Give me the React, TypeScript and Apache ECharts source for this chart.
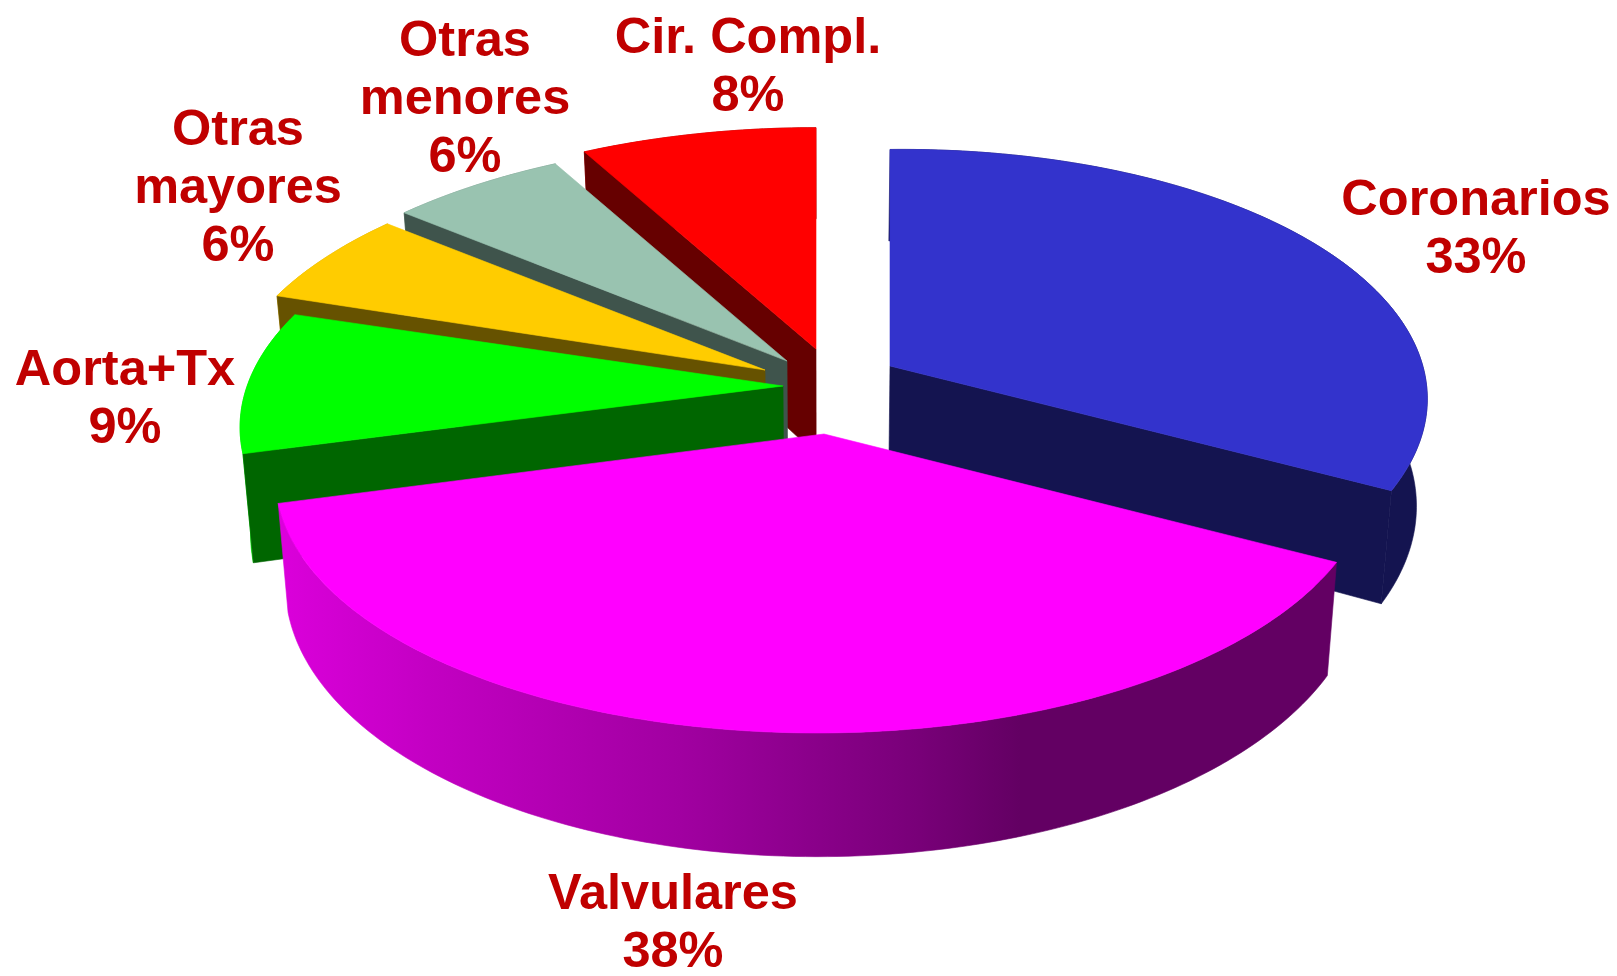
import React, { useEffect, useRef } from "react";
import * as echarts from "echarts";

// ---- data (clockwise from 12 o'clock) ----
const categories = ["Coronarios", "Valvulares", "Aorta+Tx", "Otras\nmayores", "Otras\nmenores", "Cir. Compl."];
const shares = [33, 38, 9, 6, 6, 8];

// ---- styles ----
const topColors = ["#3333CC", "#FF00FF", "#00FF00", "#FFCC00", "#99C3B0", "#FF0000"];
const faceColors = ["#141450", "#660066", "#006600", "#665200", "#3F544C", "#660000"];
const labelColor = "#C00000";

// ---- layout: 3D projection of the pie ----
const W = 1617;
const H = 976;
const centerX = 825;
const centerY = 382;
const radiusX = 545;
const radiusY = 255;
const perspective = 0.152;
const wallHeight = 105;
const bottomShrink = 0.982;
// painter's order, back to front
const depthRank = [4, 5, 3, 2, 1, 0];
// exploded offset of each slice's apex from the pie centre (px)
const explodeX = [65, -1, -42, -60, -38, -9];
const explodeY = [-16, 52, 4, -12, -21, -33];
const sliceScale = [0.975, 0.995, 0.985, 0.985, 1, 1];
const sliceSkew = [-5, -4, -3, 0, 0, 0];
// label block centres
const labelX = [1476, 673, 125, 238, 465, 748];
const labelY = [226, 920, 396, 185, 96, 64];
const lineStep = 58;

const total = shares.reduce((a, b) => a + b, 0);
const starts: number[] = [];
shares.reduce((acc, s, i) => {
  starts[i] = acc;
  return acc + s;
}, 0);

function project(i: number, angleDeg: number, r: number) {
  const a = (angleDeg * Math.PI) / 180;
  const u = Math.sin(a) * r * sliceScale[i];
  const v = -Math.cos(a) * r * sliceScale[i];
  const w = 1 - perspective * v;
  return {
    x: centerX + explodeX[i] + (u * radiusX) / w,
    y: centerY + explodeY[i] + (v * radiusY) / w + sliceSkew[i] * u,
    h: wallHeight / w,
  };
}
const topPt = (p: { x: number; y: number }) => [p.x, p.y];
const botPt = (p: { x: number; y: number; h: number }) => [
  centerX + (p.x - centerX) * bottomShrink,
  p.y + p.h,
];

function scale(hex: string, f: number) {
  const n = parseInt(hex.slice(1), 16);
  const c = (s: number) => Math.round(((n >> s) & 255) * f);
  return `rgb(${c(16)},${c(8)},${c(0)})`;
}
function wallGradient(hex: string) {
  const x0 = 230;
  const x1 = 1430;
  const stops: [number, number][] = [
    [230, 0.92],
    [290, 0.85],
    [435, 0.76],
    [680, 0.63],
    [920, 0.47],
    [1020, 0.39],
    [1430, 0.39],
  ];
  return new echarts.graphic.LinearGradient(
    x0,
    0,
    x1,
    0,
    stops.map(([x, f]) => ({ offset: (x - x0) / (x1 - x0), color: scale(hex, f) })),
    true
  );
}

function renderItem(params: any, api: any) {
  const i = params.dataIndex;
  const share = api.value(0);
  const a0 = (starts[i] / total) * 360;
  const a1 = a0 + (share / total) * 360;
  const steps = Math.ceil(a1 - a0);
  const arc = [];
  for (let s = 0; s <= steps; s++) arc.push(project(i, a0 + ((a1 - a0) * s) / steps, 1));
  const apex = project(i, 0, 0);
  const rank = depthRank[i] * 10;
  const face = faceColors[i];
  const first = arc[0];
  const last = arc[arc.length - 1];
  const poly = (points: number[][], fill: any, z2: number) => ({
    type: "polygon",
    z2,
    shape: { points },
    style: { fill, stroke: fill, lineWidth: 0.6 },
    silent: true,
  });
  const rad = (d: number) => (d * Math.PI) / 180;
  const children: any[] = [
    poly([...arc.map(topPt), ...arc.slice().reverse().map(botPt)], wallGradient(topColors[i]), rank),
  ];
  // a cut face is drawn only when it turns towards the viewer
  if (Math.sin(rad(a0)) < -1e-6) {
    children.push(poly([topPt(apex), topPt(first), botPt(first), botPt(apex)], face, rank + 1));
  }
  if (Math.sin(rad(a1)) > 1e-6) {
    children.push(poly([topPt(apex), topPt(last), botPt(last), botPt(apex)], face, rank + 2));
  }
  children.push(poly([topPt(apex), ...arc.map(topPt)], topColors[i], rank + 3));
  const lines = `${categories[i]}\n${share}%`.split("\n");
  lines.forEach((line, j) => {
    children.push({
      type: "text",
      z2: 200,
      silent: true,
      style: {
        text: line,
        x: labelX[i],
        y: labelY[i] + (j - (lines.length - 1) / 2) * lineStep,
        fill: labelColor,
        fontFamily: "Liberation Sans",
        fontWeight: "bold",
        fontSize: 50.5,
        align: "center",
        verticalAlign: "middle",
      },
    });
  });
  return { type: "group", children };
}

export default function App() {
  const ref = useRef<HTMLDivElement>(null);
  useEffect(() => {
    document.body.style.margin = "0";
    document.body.style.background = "#fff";
    const chart = echarts.init(ref.current!, undefined, { renderer: "svg", width: W, height: H });
    chart.setOption({
      animation: false,
      backgroundColor: "#FFFFFF",
      series: [
        {
          type: "custom",
          coordinateSystem: "none",
          renderItem,
          clip: false,
          data: shares.map((s, i) => ({ name: categories[i], value: [s] })),
        },
      ],
    });
    return () => chart.dispose();
  }, []);
  return <div ref={ref} style={{ width: W, height: H }} />;
}
